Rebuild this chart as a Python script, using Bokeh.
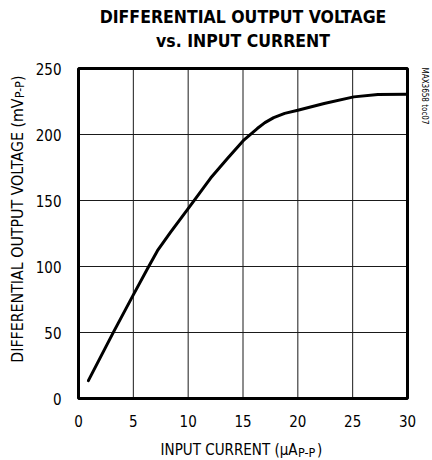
import math
from bokeh.plotting import figure
from bokeh.models import Label, FixedTicker, Range1d
from bokeh.embed import file_html
from bokeh.resources import INLINE

# ---- data ----
current_uA = [0.9, 3.2, 4.9, 6.3, 7.2, 8.4, 10.1, 12.05, 13.6, 15.1, 16.3, 17.0, 17.8, 18.8, 20.0, 22.4, 25.1, 27.3, 30.0]
voltage_mV = [13.5, 50.5, 77, 98.5, 112, 126, 145, 167, 182, 196, 204.5, 209.0, 212.8, 216.0, 218.4, 223.5, 228.5, 230.3, 230.5]
x_ticks = [0, 5, 10, 15, 20, 25, 30]
y_ticks = [0, 50, 100, 150, 200, 250]

title_lines = ["DIFFERENTIAL OUTPUT VOLTAGE", "vs. INPUT CURRENT"]
x_label = ["INPUT CURRENT (\u03bcA", "P-P", ")"]
y_label = ["DIFFERENTIAL OUTPUT VOLTAGE (mV", "P-P", ")"]
side_note = "MAX3658 toc07"

# ---- layout (pixels) ----
W, H = 432, 460
BOX_L, BOX_R, BOX_T, BOX_B = 78, 407, 68, 398   # plot box edges on the canvas

FONT = "'DejaVu Sans Condensed', 'Liberation Sans Narrow', sans-serif"

x_min, x_max = x_ticks[0], x_ticks[-1]
y_min, y_max = y_ticks[0], y_ticks[-1]
xs = (x_max - x_min) / (BOX_R - BOX_L)
ys = (y_max - y_min) / (BOX_B - BOX_T)

p = figure(width=W, height=H, output_backend="svg", toolbar_location=None,
           x_range=Range1d(x_min - BOX_L * xs, x_max + (W - BOX_R) * xs),
           y_range=Range1d(y_min - (H - BOX_B) * ys, y_max + BOX_T * ys),
           min_border=0)
p.outline_line_color = None
p.background_fill_color = "white"
p.border_fill_color = "white"
p.xgrid.visible = False
p.ygrid.visible = False

for ax, ticks in ((p.xaxis[0], x_ticks), (p.yaxis[0], y_ticks)):
    ax.fixed_location = 0
    ax.ticker = FixedTicker(ticks=ticks)
    ax.axis_line_color = None
    ax.major_tick_line_color = None
    ax.minor_tick_line_color = None
    ax.major_tick_out = 0
    ax.major_tick_in = 0
    ax.major_label_text_font = FONT
    ax.major_label_text_font_size = "15px"
    ax.major_label_text_color = "black"
p.xaxis[0].major_label_standoff = 16
p.yaxis[0].major_label_standoff = 17

# grid lines, bounded to the plot box
inner_x = x_ticks[1:-1]
inner_y = y_ticks[1:-1]
p.segment(x0=inner_x, y0=[y_min] * len(inner_x), x1=inner_x, y1=[y_max] * len(inner_x),
          line_color="#1a1a1a", line_width=1)
p.segment(x0=[x_min] * len(inner_y), y0=inner_y, x1=[x_max] * len(inner_y), y1=inner_y,
          line_color="#1a1a1a", line_width=1)

# data curve
p.line(current_uA, voltage_mV, line_color="black", line_width=3, line_join="round", line_cap="round")

# plot box
p.quad(left=[x_min], right=[x_max], bottom=[y_min], top=[y_max],
       fill_color=None, line_color="black", line_width=3)

def lab(x, y, text, size, align="left", angle=0.0, bold=False):
    p.add_layout(Label(x=x, y=y, x_units="screen", y_units="screen", text=text,
                       text_align=align, text_baseline="alphabetic", angle=angle,
                       text_font=FONT, text_font_size=size,
                       text_font_style="bold" if bold else "normal", text_color="black"))

cx = (BOX_L + BOX_R) / 2
# title
lab(cx, H - 16.5, title_lines[0], "17.5px", align="center", bold=True)
lab(cx, H - 40, title_lines[1], "17.5px", align="center", bold=True)

# x axis label with subscript
lab(297, H - 449, x_label[0], "15px", align="right")
lab(297.5, H - 451.5, x_label[1], "12.5px")
lab(316.5, H - 449, x_label[2], "15px")

# y axis label with subscript (rotated)
up = math.pi / 2
lab(17, H - 98, y_label[0], "15.8px", align="right", angle=up)
lab(19.5, H - 97.5, y_label[1], "12px", angle=up)
lab(17, H - 80.5, y_label[2], "15.8px", angle=up)

# side note
lab(424, H - 67, side_note, "8px", angle=-math.pi / 2)

open("out.html", "w").write(file_html(p, INLINE))
